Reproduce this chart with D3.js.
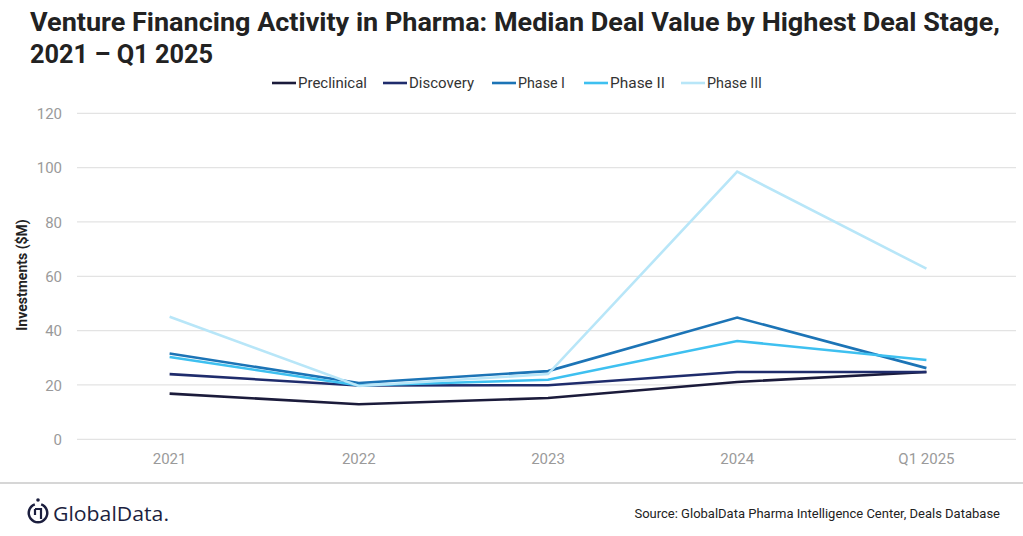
<!DOCTYPE html>
<html><head><meta charset="utf-8">
<script src="https://cdn.jsdelivr.net/npm/d3@7/dist/d3.min.js"></script>
<style>
html,body{margin:0;padding:0;background:#fff;}
svg{display:block;}
</style></head>
<body><svg id="c" width="1023" height="536"></svg>
<script>
const categories = ["2021", "2022", "2023", "2024", "Q1 2025"];
const seriesNames = ["Preclinical", "Discovery", "Phase I", "Phase II", "Phase III"];
const preclinical = [16.8, 12.9, 15.2, 21.1, 24.8];
const discovery   = [24.0, 19.8, 19.9, 24.8, 24.8];
const phaseI      = [31.6, 20.7, 25.1, 44.8, 26.2];
const phaseII     = [30.3, 19.8, 21.9, 36.2, 29.2];
const phaseIII    = [45.1, 19.6, 24.0, 98.5, 62.8];
const yTicks = [0, 20, 40, 60, 80, 100, 120];
const colors = ["#1b1b3b", "#1f2c6c", "#1c74b6", "#3ec0f0", "#b8e6f8"];
const seriesValues = [preclinical, discovery, phaseI, phaseII, phaseIII];

const svg = d3.select("#c");
const FONT = "'Liberation Sans Narrow','Roboto','Open Sans',sans-serif";

// Title
const title1 = "Venture Financing Activity in Pharma: Median Deal Value by Highest Deal Stage,";
const title2 = "2021 \u2013 Q1 2025";
svg.append("text").attr("x", 30).attr("y", 31).attr("font-family", FONT).attr("font-weight", "bold")
  .attr("font-size", 25).attr("fill", "#222").attr("textLength", 970).attr("lengthAdjust", "spacingAndGlyphs").text(title1);
svg.append("text").attr("x", 30).attr("y", 63).attr("font-family", FONT).attr("font-weight", "bold")
  .attr("font-size", 25).attr("fill", "#222").attr("textLength", 183).attr("lengthAdjust", "spacingAndGlyphs").text(title2);

// Scales
const x = d3.scaleBand().domain(categories).range([75, 1021]);
const y = d3.scaleLinear().domain([0, 120]).range([439.3, 113.3]);
const cx = d => x(d) + x.bandwidth() / 2;

// Gridlines
const grid = svg.append("g");
grid.selectAll("line").data(yTicks).join("line")
  .attr("x1", 77).attr("x2", 1016)
  .attr("y1", d => y(d)).attr("y2", d => y(d))
  .attr("stroke", "#e3e3e3").attr("stroke-width", 1.2);

// Y axis labels
const yAxis = svg.append("g").attr("transform", "translate(62,0)")
  .call(d3.axisLeft(y).tickValues(yTicks).tickSize(0).tickPadding(0));
yAxis.select(".domain").remove();
yAxis.selectAll("text").attr("font-family", FONT).attr("font-size", 15).attr("fill", "#9a9a9a").attr("dy", "0.35em");

// X axis labels
const xAxis = svg.append("g").attr("transform", "translate(0,450)")
  .call(d3.axisBottom(x).tickSize(0).tickPadding(0));
xAxis.select(".domain").remove();
xAxis.selectAll("text").attr("font-family", FONT).attr("font-size", 15).attr("fill", "#9a9a9a").attr("dy", "0.9em");

// Y axis title
svg.append("text").attr("transform", "translate(27,275) rotate(-90)").attr("text-anchor", "middle")
  .attr("font-family", FONT).attr("font-weight", "bold").attr("font-size", 14).attr("fill", "#222")
  .text("Investments ($M)");

// Lines
const line = d3.line().x((d, i) => cx(categories[i])).y(d => y(d));
svg.append("g").selectAll("path").data(seriesValues).join("path")
  .attr("d", d => line(d)).attr("fill", "none")
  .attr("stroke", (d, i) => colors[i]).attr("stroke-width", 2.6)
  .attr("stroke-linejoin", "miter");
// draw order: Phase III first at bottom? reorder so darker on top
svg.selectAll("g path").filter((d, i) => false);

// Legend
const legendX = [272, 383, 492, 584, 681];
const legendTextW = [69, 65, 47, 55, 55];
const lg = svg.append("g");
seriesNames.forEach((n, i) => {
  lg.append("line").attr("x1", legendX[i]).attr("x2", legendX[i] + 24).attr("y1", 83).attr("y2", 83)
    .attr("stroke", colors[i]).attr("stroke-width", 2.6);
  lg.append("text").attr("x", legendX[i] + 26).attr("y", 88).attr("font-family", FONT).attr("font-size", 15)
    .attr("fill", "#333").attr("textLength", legendTextW[i]).attr("lengthAdjust", "spacingAndGlyphs").text(n);
});

// Footer
svg.append("line").attr("x1", 0).attr("x2", 1023).attr("y1", 483).attr("y2", 483).attr("stroke", "#c8c8c8").attr("stroke-width", 1.5);
const logo = svg.append("g").attr("transform", "translate(38,513)");
logo.append("path").attr("d", d3.arc()({innerRadius: 8, outerRadius: 10.5, startAngle: 0.35, endAngle: Math.PI * 2 - 0.35}))
  .attr("fill", "#1c1f3f");
logo.append("circle").attr("cx", 0).attr("cy", -13).attr("r", 1.8).attr("fill", "#1c1f3f");
logo.append("path").attr("d", "M-3,-4 L3,-4 L3,6 M-3,-4 L-3,2").attr("stroke", "#1c1f3f").attr("stroke-width", 2.2).attr("fill", "none");
svg.append("text").attr("x", 53).attr("y", 521).attr("font-family", "'Open Sans','Roboto',sans-serif").attr("font-size", 20)
  .attr("fill", "#1c1f3f").attr("textLength", 116).attr("lengthAdjust", "spacingAndGlyphs").text("GlobalData.");
svg.append("text").attr("x", 1000).attr("y", 518).attr("text-anchor", "end").attr("font-family", FONT).attr("font-size", 13)
  .attr("fill", "#222").text("Source: GlobalData Pharma Intelligence Center, Deals Database");
</script></body></html>
